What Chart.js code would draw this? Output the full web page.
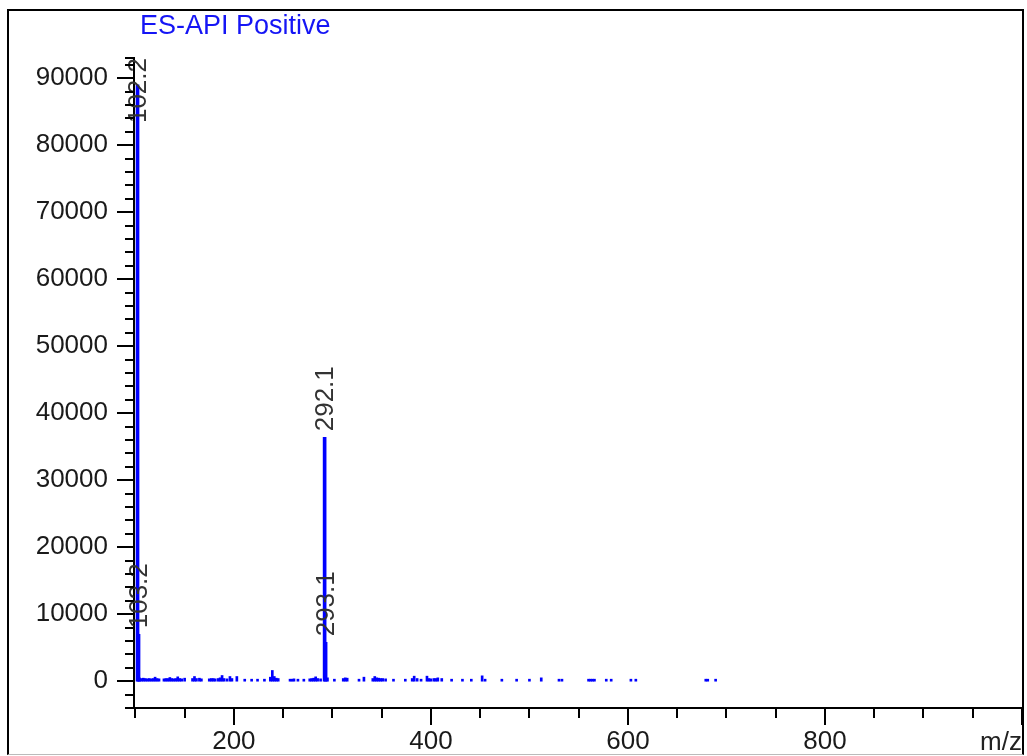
<!DOCTYPE html>
<html>
<head>
<meta charset="utf-8">
<title>ES-API Positive</title>
<script src="https://cdn.jsdelivr.net/npm/chart.js@4.4.1/dist/chart.umd.min.js"></script>
<style>
body { margin: 0; background: #fff; }
#wrap { position: relative; width: 1027px; height: 756px; overflow: hidden; }
#ms { position: absolute; left: 0; top: 0; }
#frame { position: absolute; left: 7px; top: 9px; width: 1017px; height: 746px; box-sizing: border-box;
  border: 2px solid #000; border-bottom: 1px solid #bbb; pointer-events: none; }
#title { position: absolute; left: 140px; top: 12px; font: 27px "Liberation Sans", Arial, sans-serif;
  line-height: 27px; color: #1515f5; white-space: nowrap; }
#unit { position: absolute; left: 980px; top: 728px; width: 42px; overflow: hidden; white-space: nowrap;
  font: 26px "Liberation Sans", Arial, sans-serif; line-height: 26px; color: #222; }
</style>
</head>
<body>
<div id="wrap">
  <canvas id="ms" width="1027" height="756"></canvas>
  <div id="title">ES-API Positive</div>
  <div id="unit">m/z</div>
  <div id="frame"></div>
</div>
<script>
// labelled peaks
var peakMz = [102.2, 103.2, 292.1, 293.1];
var peakInt = [89000, 7000, 36400, 5800];
var peakLabels = ["102.2", "103.2", "292.1", "293.1"];

// small background peaks along the baseline
var noiseMz = [104, 106, 108, 110, 112, 114, 116, 118, 120, 122, 124,
  129, 131, 133, 135, 137, 139, 141, 143, 145, 147, 150,
  158, 160, 162, 165, 167,
  175, 177, 179, 181, 184, 186, 188, 190, 193, 196, 198,
  203, 211, 218, 224, 231, 237, 239, 241, 243, 245,
  257, 259, 261, 265, 271, 277, 279, 281, 283, 285, 288, 295,
  302, 311, 313, 315, 327, 332, 341, 343, 345, 347, 349, 351, 354, 362, 374, 381, 383, 386, 390,
  396, 398, 400, 403, 405, 407, 411, 421, 432, 441, 452, 455, 472, 487, 500, 512, 530, 533,
  560, 562, 564, 566, 578, 583, 603, 608, 679, 681, 689];
var noiseInt = [500, 400, 450, 400, 350, 400, 350, 400, 600, 400, 350,
  350, 400, 400, 550, 400, 350, 400, 650, 400, 350, 450,
  400, 700, 400, 450, 350,
  350, 400, 400, 350, 400, 500, 850, 400, 350, 700, 400,
  700, 300, 300, 300, 300, 600, 1600, 700, 450, 400,
  300, 300, 350, 300, 300, 350, 400, 450, 650, 400, 350, 500,
  300, 400, 500, 450, 300, 600, 400, 700, 500, 450, 400, 400, 350, 300, 300, 400, 750, 400, 300,
  750, 400, 350, 400, 400, 500, 400, 300, 300, 300, 800, 300, 300, 300, 300, 500, 300, 300,
  300, 300, 300, 300, 300, 300, 300, 300, 300, 300, 300];

// axes
var xMin = 98.6, xMax = 1000, xMinorStep = 50, xMajorStep = 200;
var yMin = -4000, yMax = 93000, yMinorStep = 2000, yMajorStep = 10000;
var xTickLabels = [200, 400, 600, 800];
var yTickLabels = [0, 10000, 20000, 30000, 40000, 50000, 60000, 70000, 80000, 90000];

var fontFamily = '"Liberation Sans", Arial, sans-serif';

var tickPlugin = {
  id: 'msTicks',
  afterDraw: function (chart) {
    var ctx = chart.ctx, area = chart.chartArea;
    var x = chart.scales.x, y = chart.scales.y;
    ctx.save();
    ctx.strokeStyle = '#000';
    ctx.lineWidth = 2;
    ctx.beginPath();
    var vals = [];
    for (var v = yMin; v < yMax; v += yMinorStep) vals.push(v);
    vals.push(yMax);
    vals.forEach(function (v) {
      var py = Math.round(y.getPixelForValue(v));
      var len = (v % yMajorStep === 0) ? 17 : 9;
      ctx.moveTo(area.left, py);
      ctx.lineTo(area.left - len, py);
    });
    for (var m = 100; m <= xMax; m += xMinorStep) {
      var px = Math.round(x.getPixelForValue(m));
      var l = (m % xMajorStep === 0) ? 17 : 10;
      ctx.moveTo(px, area.bottom);
      ctx.lineTo(px, area.bottom + l);
    }
    ctx.stroke();
    ctx.restore();
  }
};

var peakLabelPlugin = {
  id: 'peakLabels',
  afterDatasetsDraw: function (chart) {
    var ctx = chart.ctx, area = chart.chartArea;
    var x = chart.scales.x, y = chart.scales.y;
    ctx.save();
    ctx.font = '26px ' + fontFamily;
    ctx.fillStyle = '#333';
    ctx.textAlign = 'left';
    ctx.textBaseline = 'middle';
    for (var i = 0; i < peakMz.length; i++) {
      var px = x.getPixelForValue(peakMz[i]);
      var py = y.getPixelForValue(peakInt[i]);
      var w = ctx.measureText(peakLabels[i]).width;
      var start = Math.max(py - 6, area.top + w);
      ctx.save();
      ctx.translate(px + 1, start);
      ctx.rotate(-Math.PI / 2);
      ctx.fillText(peakLabels[i], 0, 0);
      ctx.restore();
    }
    ctx.restore();
  }
};

var peakData = peakMz.map(function (m, i) { return { x: m, y: peakInt[i] }; });
var noiseData = noiseMz.map(function (m, i) { return { x: m, y: noiseInt[i] }; });

var ctx = document.getElementById('ms').getContext('2d');
var msChart = new Chart(ctx, {
  type: 'bar',
  data: {
    datasets: [{
      label: 'peaks',
      data: peakData,
      backgroundColor: '#0000ff',
      barThickness: 3,
      grouped: false
    }, {
      label: 'noise',
      data: noiseData,
      backgroundColor: '#0000ff',
      barThickness: 2,
      grouped: false
    }]
  },
  options: {
    responsive: false,
    animation: false,
    layout: { padding: { top: 58, right: 5, left: 0, bottom: 0 } },
    plugins: { legend: { display: false }, tooltip: { enabled: false } },
    scales: {
      x: {
        type: 'linear', min: xMin, max: xMax, offset: false,
        grid: { display: false, drawTicks: false, offset: false },
        border: { display: true, color: '#000', width: 2 },
        ticks: {
          autoSkip: false, maxRotation: 0,
          padding: 18, color: '#1a1a1a', font: { family: fontFamily, size: 26 },
          callback: function (v) { return String(v); }
        },
        afterBuildTicks: function (s) { s.ticks = xTickLabels.map(function (v) { return { value: v }; }); },
        afterFit: function (s) { s.height = 48; }
      },
      y: {
        type: 'linear', min: yMin, max: yMax,
        grid: { display: false, drawTicks: false },
        border: { display: true, color: '#000', width: 2 },
        ticks: {
          autoSkip: false,
          padding: 26, color: '#1a1a1a', font: { family: fontFamily, size: 26 },
          callback: function (v) { return String(v); }
        },
        afterBuildTicks: function (s) { s.ticks = yTickLabels.map(function (v) { return { value: v }; }); },
        afterFit: function (s) { s.width = 134; }
      }
    }
  },
  plugins: [tickPlugin, peakLabelPlugin]
});
</script>
</body>
</html>
